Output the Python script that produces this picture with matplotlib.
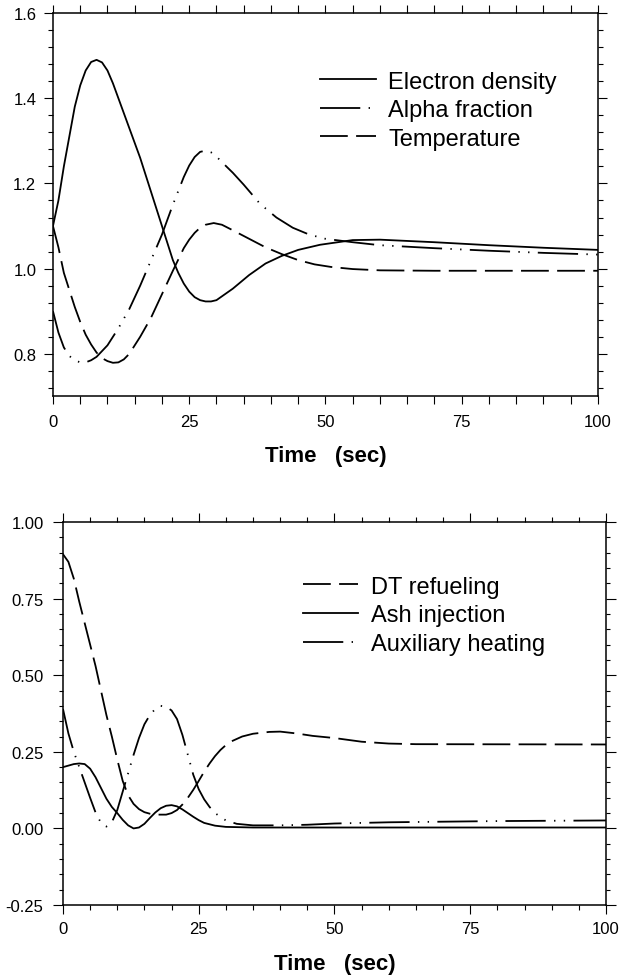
import matplotlib
matplotlib.use("Agg")
import matplotlib.pyplot as plt
from matplotlib.ticker import MultipleLocator, FormatStrFormatter

plt.rcParams["font.family"] = ["Liberation Sans", "DejaVu Sans"]
plt.rcParams["lines.scale_dashes"] = False

# top panel: plasma response
t_ne = [0, 1, 2, 3, 4, 5, 6, 7, 8, 9, 10, 11, 12, 14, 16, 18, 20, 22, 23,
        24, 25, 26, 27, 28, 29, 30, 33, 36, 39, 42, 45, 49, 55, 60, 70, 80,
        90, 100]
electron_density = [1.10, 1.16, 1.24, 1.31, 1.38, 1.43, 1.465, 1.485, 1.49,
                     1.484, 1.465, 1.435, 1.40, 1.33, 1.26, 1.18, 1.10, 1.02,
                     0.99, 0.965, 0.946, 0.933, 0.926, 0.923, 0.923, 0.926,
                     0.953, 0.985, 1.012, 1.03, 1.044, 1.056, 1.067, 1.068,
                     1.062, 1.055, 1.049, 1.044]

t_alpha = [0, 1, 2, 3, 4, 5, 6, 7, 8, 10, 12, 14, 16, 18, 20, 22, 24, 25,
           26, 27, 28, 29, 30, 31, 33, 35, 38, 41, 44, 47, 50, 55, 60, 70,
           80, 90, 100]
alpha_fraction = [0.90, 0.85, 0.815, 0.795, 0.785, 0.78, 0.78, 0.785, 0.793,
                  0.82, 0.86, 0.905, 0.96, 1.02, 1.08, 1.15, 1.215, 1.242,
                  1.262, 1.274, 1.277, 1.273, 1.263, 1.25, 1.225, 1.197,
                  1.152, 1.12, 1.096, 1.08, 1.07, 1.062, 1.055, 1.048, 1.042,
                  1.037, 1.033]

t_temp = [0, 1, 2, 3, 4, 5, 6, 7, 8, 9, 10, 11, 12, 13, 14, 16, 18, 20, 22,
          24, 25, 26, 27, 28, 29.5, 31, 33, 36, 39, 42, 45, 48, 51, 55, 60,
          70, 100]
temperature = [1.10, 1.05, 0.99, 0.95, 0.91, 0.875, 0.845, 0.822, 0.803,
               0.79, 0.783, 0.779, 0.78, 0.787, 0.80, 0.84, 0.885, 0.94,
               0.995, 1.048, 1.068, 1.084, 1.096, 1.103, 1.107, 1.103, 1.09,
               1.07, 1.05, 1.034, 1.02, 1.01, 1.004, 0.999, 0.996, 0.995,
               0.995]

# bottom panel: control actions
t_dt = [0, 1, 2, 3, 4, 5, 6, 7, 8, 9, 10, 11, 12, 13, 14, 15, 16, 17, 19,
        20, 21, 22, 23, 24, 25, 26, 27, 28, 29, 30, 31, 33, 35, 38, 40, 43,
        46, 50, 55, 60, 65, 100]
dt_refueling = [0.895, 0.87, 0.815, 0.74, 0.67, 0.60, 0.53, 0.45, 0.37,
                0.30, 0.225, 0.155, 0.108, 0.08, 0.063, 0.053, 0.048, 0.045,
                0.045, 0.05, 0.06, 0.078, 0.10, 0.126, 0.155, 0.185, 0.212,
                0.236, 0.256, 0.272, 0.284, 0.30, 0.309, 0.315, 0.316, 0.31,
                0.302, 0.295, 0.283, 0.277, 0.275, 0.274]

t_ash = [0, 1, 2, 3, 4, 5, 6, 7, 8, 9, 10, 11, 12, 13, 14, 15, 16, 17, 18,
         19, 20, 21, 22, 23, 24, 25, 26, 28, 30, 35, 100]
ash_injection = [0.20, 0.205, 0.21, 0.212, 0.21, 0.195, 0.167, 0.132, 0.097,
                 0.07, 0.05, 0.028, 0.01, 0.0, 0.003, 0.015, 0.034, 0.052,
                 0.066, 0.074, 0.076, 0.072, 0.062, 0.05, 0.038, 0.027,
                 0.018, 0.009, 0.005, 0.003, 0.003]

t_aux = [0, 1, 2, 3, 4, 5, 6, 7, 8, 9, 10, 11, 12, 13, 14, 15, 16, 17, 18,
         19, 20, 21, 22, 23, 24, 25, 26, 27, 28, 30, 32, 35, 40, 45, 50, 60,
         70, 80, 90, 100]
auxiliary_heating = [0.39, 0.31, 0.25, 0.20, 0.15, 0.10, 0.052, 0.018,
                     0.006, 0.02, 0.06, 0.12, 0.18, 0.24, 0.295, 0.34, 0.37,
                     0.39, 0.40, 0.397, 0.385, 0.357, 0.305, 0.24, 0.175,
                     0.128, 0.095, 0.07, 0.05, 0.026, 0.015, 0.01, 0.01,
                     0.012, 0.016, 0.02, 0.022, 0.024, 0.025, 0.026]

SOLID = "-"
DASHED = (0, (20, 6))
DASH_DOT_DOT = (0, (29, 6, 1, 6, 1, 6))
LW = 1.3


def style_axis(axis, x_major_len, x_minor_len, y_major_len, y_minor_len,
               x_pad, y_pad):
    for spine in axis.spines.values():
        spine.set_linewidth(1.1)
    axis.tick_params(which="both", direction="out", top=True, right=True,
                     width=0.8, labelsize=12, colors="black")
    axis.tick_params(axis="x", which="major", length=x_major_len, pad=x_pad)
    axis.tick_params(axis="x", which="minor", length=x_minor_len)
    axis.tick_params(axis="y", which="major", length=y_major_len, pad=y_pad)
    axis.tick_params(axis="y", which="minor", length=y_minor_len)
    axis.set_xlim(0, 100)
    axis.xaxis.set_major_locator(MultipleLocator(25))
    axis.xaxis.set_minor_locator(MultipleLocator(5))
    axis.set_xlabel("Time   (sec)", fontsize=16, fontweight="bold",
                    labelpad=12)


def add_legend(axis, anchor):
    axis.legend(loc="upper left", bbox_to_anchor=anchor, frameon=False,
                fontsize=17, handlelength=2.35, handletextpad=0.55,
                labelspacing=0.28, borderpad=0, borderaxespad=0)


fig = plt.figure(figsize=(6.21, 9.78), dpi=100)

top = fig.add_axes([0.0853, 0.5936, 0.8776, 0.3921])
top.plot(t_ne, electron_density, color="black", lw=LW, ls=SOLID,
         label="Electron density")
top.plot(t_alpha, alpha_fraction, color="black", lw=LW, ls=DASH_DOT_DOT,
         label="Alpha fraction")
top.plot(t_temp, temperature, color="black", lw=LW, ls=DASHED,
         label="Temperature")
top.set_ylim(0.7, 1.6)
top.yaxis.set_major_locator(MultipleLocator(0.2))
top.yaxis.set_minor_locator(MultipleLocator(0.04))
top.yaxis.set_major_formatter(FormatStrFormatter("%.1f"))
top.set_yticks([0.8, 1.0, 1.2, 1.4, 1.6])
style_axis(top, 6, 6, 6.5, 3.5, 6.5, 5.5)
add_legend(top, (0.49, 0.85))

bottom = fig.add_axes([0.1014, 0.0736, 0.8744, 0.3916])
bottom.plot(t_dt, dt_refueling, color="black", lw=LW, ls=DASHED,
            label="DT refueling")
bottom.plot(t_ash, ash_injection, color="black", lw=LW, ls=SOLID,
            label="Ash injection")
bottom.plot(t_aux, auxiliary_heating, color="black", lw=LW,
            ls=DASH_DOT_DOT, label="Auxiliary heating")
bottom.set_ylim(-0.25, 1.0)
bottom.yaxis.set_major_locator(MultipleLocator(0.25))
bottom.yaxis.set_minor_locator(MultipleLocator(0.05))
bottom.yaxis.set_major_formatter(FormatStrFormatter("%.2f"))
style_axis(bottom, 6.5, 3.5, 7, 3, 5, 7)
add_legend(bottom, (0.442, 0.86))

fig.savefig("out.png", dpi=100)
